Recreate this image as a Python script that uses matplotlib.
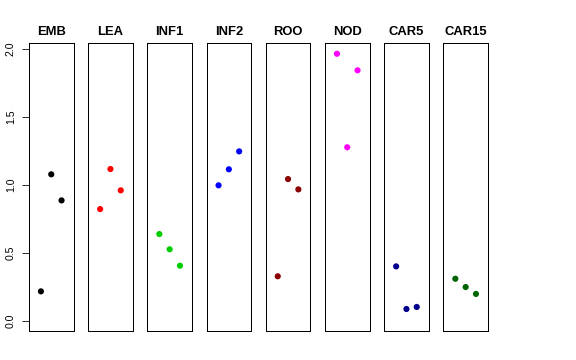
import matplotlib
matplotlib.use("Agg")
import matplotlib.pyplot as plt

plt.rcParams['font.family'] = ['Liberation Sans', 'DejaVu Sans']

categories = ["EMB", "LEA", "INF1", "INF2", "ROO", "NOD", "CAR5", "CAR15"]
values = {
    "EMB":   [0.216, 1.078, 0.886],
    "LEA":   [0.822, 1.117, 0.960],
    "INF1":  [0.638, 0.526, 0.405],
    "INF2":  [0.997, 1.115, 1.247],
    "ROO":   [0.327, 1.043, 0.967],
    "NOD":   [1.966, 1.277, 1.844],
    "CAR5":  [0.400, 0.086, 0.101],
    "CAR15": [0.309, 0.248, 0.197],
}
colors = ["black", "#FF0000", "#00CD00", "#0000FF", "#8B0000", "#FF00FF", "#00008B", "#006400"]
yticks = [0.0, 0.5, 1.0, 1.5, 2.0]

W, H = 576, 360
fig = plt.figure(figsize=(W / 72, H / 72), dpi=72)

left0, step, pw = 29.0, 59.2, 44.5
top, bottom = 43.3, 331.0

for i, cat in enumerate(categories):
    l = left0 + i * step
    ax = fig.add_axes([l / W, 1 - bottom / H, pw / W, (bottom - top) / H])
    ys = values[cat]
    xs = list(range(1, len(ys) + 1))
    ax.scatter(xs, ys, s=38, color=colors[i], edgecolors='none', zorder=3)
    ax.set_xlim(-0.16, 4.16)
    ax.set_ylim(-0.076, 2.043)
    ax.set_xticks([])
    for sp in ax.spines.values():
        sp.set_linewidth(1.0)
        sp.set_color('black')
    ax.set_title(cat, fontsize=13, fontweight='bold', pad=8)
    if i == 0:
        ax.set_yticks(yticks)
        ax.set_yticklabels([f"{v:.1f}" for v in yticks], fontsize=10.5)
        ax.tick_params(axis='y', length=7, width=0.8, pad=6, colors='black',
                       labelrotation=90)
        for lab in ax.get_yticklabels():
            lab.set_va('center')
    else:
        ax.set_yticks([])

fig.savefig("out.png", dpi=72)
